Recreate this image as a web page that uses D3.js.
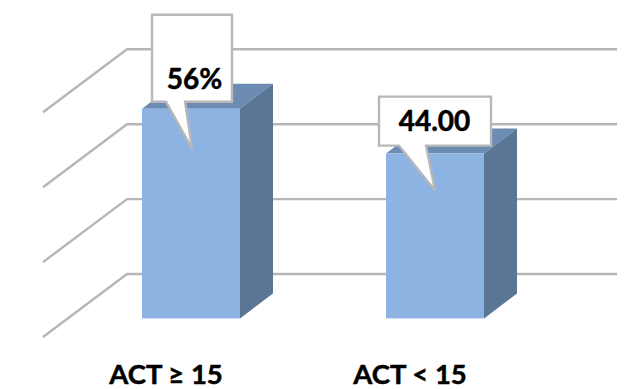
<!DOCTYPE html>
<html>
<head>
<meta charset="utf-8">
<script src="https://cdn.jsdelivr.net/npm/d3@7"></script>
<style>
	html, body { margin: 0; padding: 0; background: #fff; }
	text { font-family: Lato, "Open Sans", sans-serif; font-weight: 700; fill: #000; stroke: #000; stroke-width: 0.5px; }
</style>
</head>
<body>
<script>
var categories = ["ACT ≥ 15", "ACT < 15"];
var values = [56, 44];
var valueLabels = ["56%", "44.00"];
var gridTicks = [0, 20, 40, 60];

var width = 625, height = 389;
var depthX = 84, depthY = 63; // full floor depth
var barDepthX = 33, barDepthY = 25;
var frontShift = 44.4; // bar front sits this far below the back wall

var svg = d3.select("body").append("svg")
	.attr("width", width)
	.attr("height", height)
	.style("display", "block");

// y is measured on the back wall
var y = d3.scaleLinear().domain([0, 60]).range([274, 49.3]);
var x = d3.scalePoint().domain(categories).range([191, 435]);
var barWidth = 98;

var line = d3.line();

// Grid: side wall + back wall
var grid = svg.append("g").attr("class", "grid");
grid.selectAll("path")
	.data(gridTicks)
	.enter()
	.append("path")
	.attr("d", function(d) {
		return line([
			[127 - depthX, y(d) + depthY],
			[127, y(d)],
			[617, y(d)]
		]);
	})
	.attr("fill", "none")
	.attr("stroke", "#b6b6b6")
	.attr("stroke-width", 2.4);

// Bars
var bars = svg.append("g").attr("class", "bars")
	.selectAll("g")
	.data(values)
	.enter()
	.append("g");

function barBox(d, i) {
	var left = x(categories[i]) - barWidth / 2;
	return {
		left: left,
		right: left + barWidth,
		top: y(d) + frontShift,
		bottom: y(0) + frontShift
	};
}

bars.append("path") // top face
	.attr("d", function(d, i) {
		var b = barBox(d, i);
		return line([
			[b.left, b.top],
			[b.left + barDepthX, b.top - barDepthY],
			[b.right + barDepthX, b.top - barDepthY],
			[b.right, b.top]
		]) + "Z";
	})
	.attr("fill", "#6d8cb3");

bars.append("path") // side face
	.attr("d", function(d, i) {
		var b = barBox(d, i);
		return line([
			[b.right, b.top],
			[b.right + barDepthX, b.top - barDepthY],
			[b.right + barDepthX, b.bottom - barDepthY],
			[b.right, b.bottom]
		]) + "Z";
	})
	.attr("fill", "#5b7594");

bars.append("rect") // front face
	.attr("x", function(d, i) { return barBox(d, i).left; })
	.attr("y", function(d, i) { return barBox(d, i).top; })
	.attr("width", barWidth)
	.attr("height", function(d, i) {
		var b = barBox(d, i);
		return b.bottom - b.top;
	})
	.attr("fill", "#8cb3e2");

// Callouts, offsets are from the bar's front top left corner
var calloutShapes = [
	{ x0: 10, x1: 90, y0: -94, y1: -7, p0: 24, p1: 43, tipX: 50, tipY: 40, textX: 52.5, textY: -19.5 },
	{ x0: -7, x1: 105, y0: -57, y1: -8, p0: 13, p1: 40, tipX: 49, tipY: 37, textX: 48.5, textY: -23 }
];

var callouts = svg.append("g").attr("class", "callouts")
	.selectAll("g")
	.data(values)
	.enter()
	.append("g")
	.attr("transform", function(d, i) {
		var b = barBox(d, i);
		return "translate(" + b.left + "," + b.top + ")";
	});

callouts.append("path")
	.attr("d", function(d, i) {
		var c = calloutShapes[i];
		return line([
			[c.x0, c.y0],
			[c.x1, c.y0],
			[c.x1, c.y1],
			[c.p1, c.y1],
			[c.tipX, c.tipY],
			[c.p0, c.y1],
			[c.x0, c.y1]
		]) + "Z";
	})
	.attr("fill", "#fff")
	.attr("stroke", "#b8b8b8")
	.attr("stroke-width", 2.4);

callouts.append("text")
	.attr("x", function(d, i) { return calloutShapes[i].textX; })
	.attr("y", function(d, i) { return calloutShapes[i].textY; })
	.attr("text-anchor", "middle")
	.style("font-size", "28px")
	.text(function(d, i) { return valueLabels[i]; });

// Category labels
svg.append("g").attr("class", "labels")
	.selectAll("text")
	.data(categories)
	.enter()
	.append("text")
	.attr("x", function(d) { return x(d) - 25; })
	.attr("y", 383.5)
	.attr("text-anchor", "middle")
	.style("font-size", "27.5px")
	.text(function(d) { return d; });
</script>
</body>
</html>
